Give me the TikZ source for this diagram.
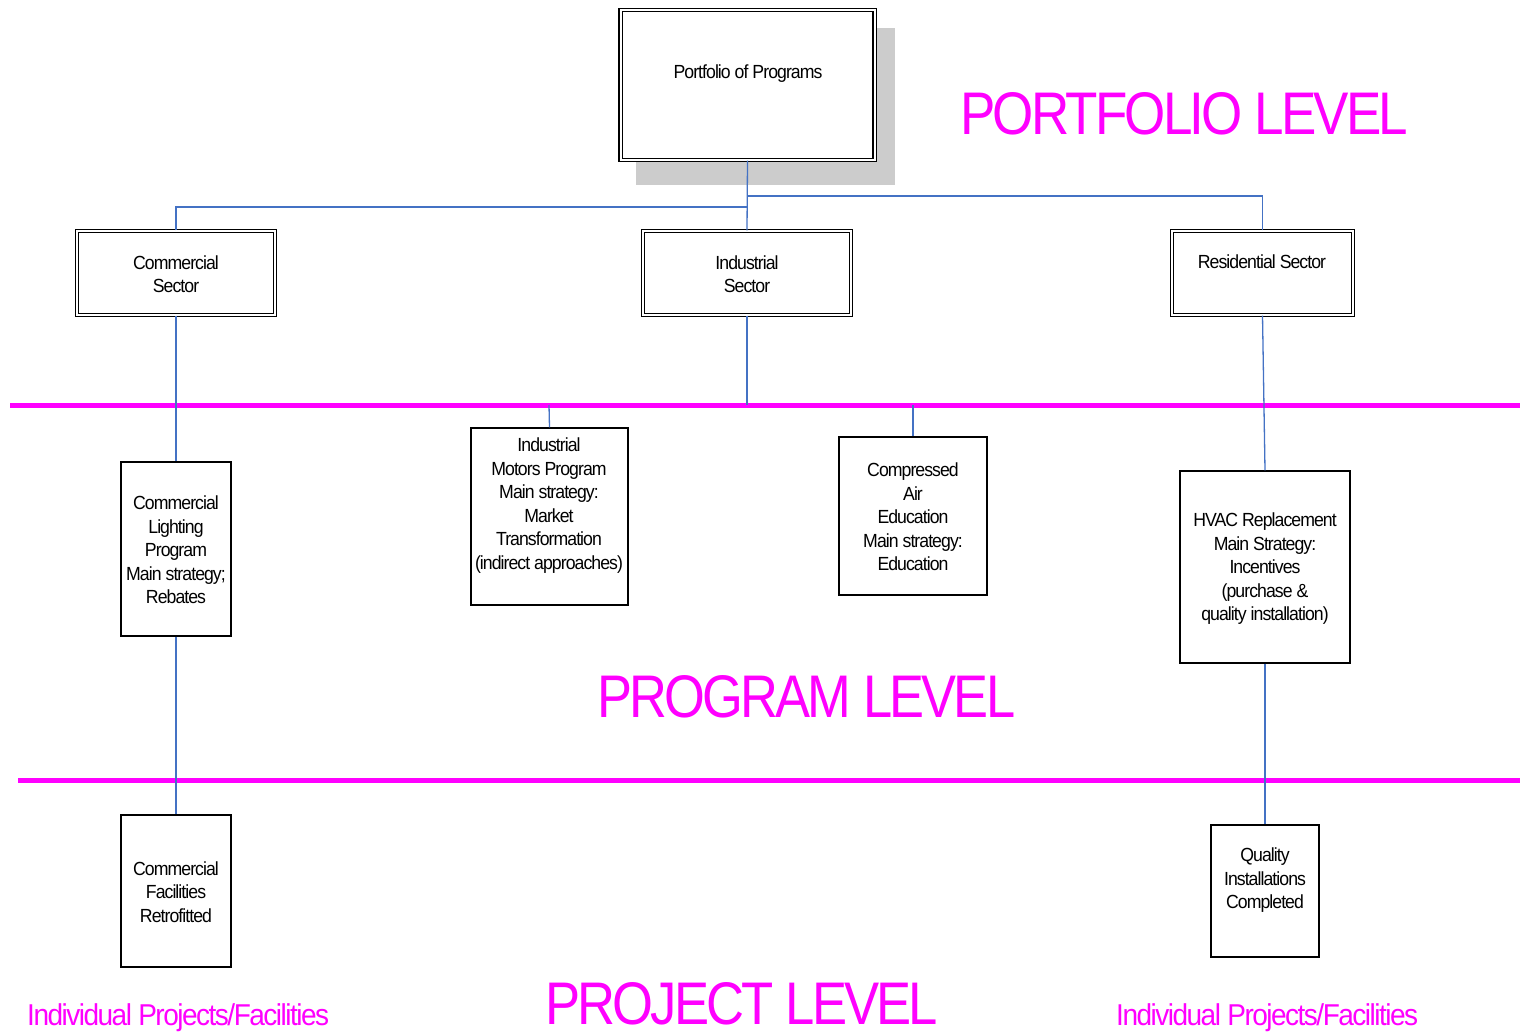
\documentclass[tikz,border=0pt]{standalone}
\usepackage{fontspec}
\setmainfont{Liberation Sans}[FakeStretch=0.93,LetterSpace=-5]
\usepackage{graphicx}
\definecolor{mag}{HTML}{FF00FF}
\definecolor{connblue}{HTML}{4472C4}
\definecolor{shadowgray}{HTML}{CCCCCC}
\begin{document}
\begin{tikzpicture}[x=1pt,y=-1pt,
  dbox/.style={draw=black, line width=1.1pt, double=white, double distance=2pt, fill=white, inner sep=0pt},
  sbox/.style={draw=black, line width=1.4pt, fill=white, inner sep=0pt},
  txt/.style={align=center, inner sep=0pt, font=\fontsize{19}{23.5}\selectfont},
  biglab/.style={text=mag, inner sep=0pt, anchor=base west},
  conn/.style={draw=connblue, line width=1.3pt},
  levelline/.style={draw=mag, line width=5pt}
]
\useasboundingbox (0,0) rectangle (1520,1032);

% shadow
\fill[shadowgray] (636,28) rectangle (895,185);

% level lines
\coordinate (L1a) at (10,405);
\coordinate (L1b) at (1520,405);
\coordinate (L2a) at (18,780);
\coordinate (L2b) at (1520,780);
\draw[levelline] (L1a) -- (L1b);
\draw[levelline] (L2a) -- (L2b);

% boxes
\node[dbox, minimum width=254pt, minimum height=150pt] (port) at (747.5,85) {};
\node[dbox, minimum width=198pt, minimum height=84pt] (com) at (176,273) {};
\node[dbox, minimum width=208pt, minimum height=84pt] (ind) at (747,273) {};
\node[dbox, minimum width=181pt, minimum height=84pt] (res) at (1262.5,273) {};

\node[sbox, minimum width=110pt, minimum height=174pt] (cl) at (176,549) {};
\node[sbox, minimum width=157pt, minimum height=177pt] (im) at (549.5,516.5) {};
\node[sbox, minimum width=148pt, minimum height=158pt] (ca) at (913,516) {};
\node[sbox, minimum width=170pt, minimum height=192pt] (hvac) at (1265,567) {};
\node[sbox, minimum width=110pt, minimum height=152pt] (cf) at (176,891) {};
\node[sbox, minimum width=108pt, minimum height=132pt] (qual) at (1265,891) {};

% texts
\node[txt] (portT) at (748,74) {Portfolio of Programs};
\node[txt] (comT) at (176,274) {Commercial\\Sector};
\node[txt] (indT) at (747,274) {Industrial\\Sector};
\node[txt] (resT) at (1262,262) {Residential Sector};
\node[txt] (clT) at (176,550) {Commercial\\Lighting\\Program\\Main strategy;\\Rebates};
\node[txt] (imT) at (549,505.5) {Industrial\\Motors Program\\Main strategy:\\Market\\Transformation\\(indirect approaches)};
\node[txt] (caT) at (913,517) {Compressed\\Air\\Education\\Main strategy:\\Education};
\node[txt] (hvacT) at (1265,569) {HVAC Replacement\\Main Strategy:\\Incentives\\(purchase \&\\quality installation)};
\node[txt] (cfT) at (176,892) {Commercial\\Facilities\\Retrofitted};
\node[txt] (qualT) at (1265,880.5) {Quality\\Installations\\Completed};

% connectors
\coordinate (j1) at (747,207);
\coordinate (j2) at (747,196);
\coordinate (m1) at (747,405);
\coordinate (m2) at (549,405);
\coordinate (m3) at (913,405);
\draw[conn] (port.south) -- (ind.north);
\draw[conn] (com.north) |- (j1);
\draw[conn] (res.north) |- (j2);
\draw[conn] (com.south) -- (cl.north);
\draw[conn] (cl.south) -- (cf.north);
\draw[conn] (ind.south) -- (m1);
\draw[conn] (m2) -- (im.north);
\draw[conn] (m3) -- (ca.north);
\draw[conn] (res.south) -- (hvac.north);
\draw[conn] (hvac.south) -- (qual.north);

% level labels
\node[biglab] (pfl) at (960,135) {\resizebox{448pt}{42pt}{\fontsize{59}{60}\selectfont PORTFOLIO LEVEL}};
\node[biglab] (prl) at (597,717) {\resizebox{418pt}{42pt}{\fontsize{59}{60}\selectfont PROGRAM LEVEL}};
\node[biglab] (pjl) at (545,1024) {\resizebox{393pt}{42pt}{\fontsize{59}{60}\selectfont PROJECT LEVEL}};
\node[biglab] (ipl) at (27,1025) {\resizebox{302pt}{!}{\fontsize{28}{30}\selectfont Individual Projects/Facilities}};
\node[biglab] (ipr) at (1116,1025) {\resizebox{302pt}{!}{\fontsize{28}{30}\selectfont Individual Projects/Facilities}};
\end{tikzpicture}
\end{document}
